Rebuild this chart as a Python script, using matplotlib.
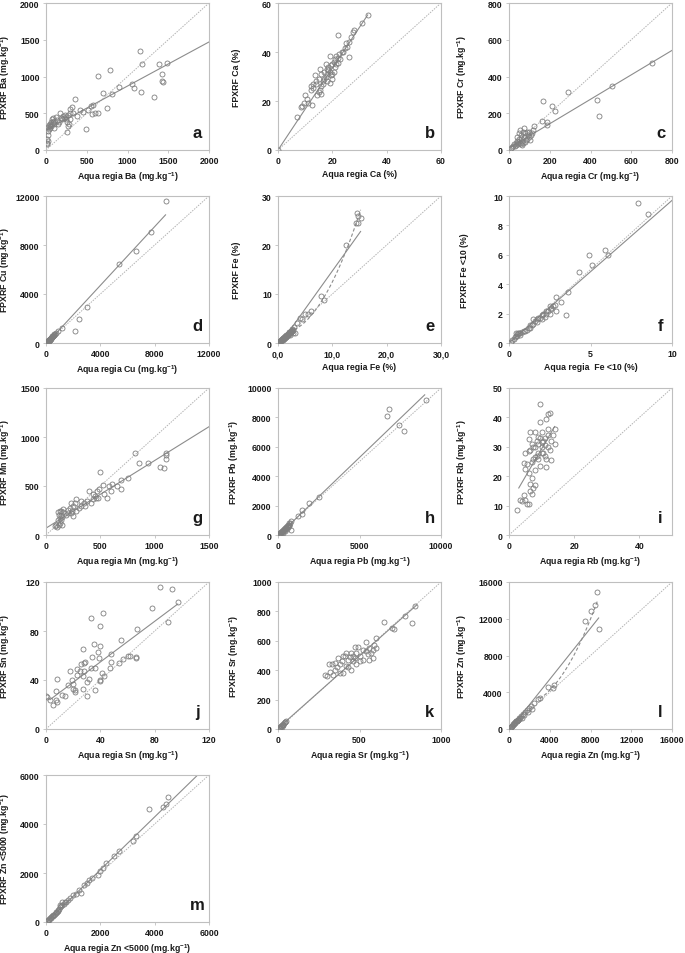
import matplotlib
matplotlib.use("Agg")
import matplotlib.pyplot as plt
import numpy as np

plt.rcParams['font.family'] = ['Liberation Sans', 'DejaVu Sans']
plt.rcParams['font.weight'] = 'bold'
plt.rcParams['mathtext.fontset'] = 'custom'
plt.rcParams['mathtext.rm'] = 'Liberation Sans:bold'
plt.rcParams['mathtext.default'] = 'rm'

# ---------------- data ----------------
ba_x = [1150,1175,1390,1480,1420,1420,1440,1170,1330,1050,1080,900,780,640,700,810,750,640,600,580,550,560,520,490,450,420,360,320,300,290,270,260,280,260,240,220,200,170,160,150,120,100,90,80,70,60,50,50,40,30,20,15,10,10,20,60,70,100,130,180,210,230,250,270,300,330,380,100,40,50,30]
ba_y = [1350,1170,1170,1180,1030,940,920,790,720,900,850,860,1090,1010,770,760,570,510,500,610,600,490,550,280,520,540,690,580,560,500,470,380,360,240,450,440,420,500,380,350,450,400,430,380,350,330,320,300,280,260,200,150,100,80,120,380,420,350,410,440,460,480,420,330,420,500,460,300,340,360,310]

ca_x = [0,7,8.5,9,9.5,10,10.5,11,12.5,12,13,13.5,14,14.5,15,15.5,16,15,15.5,16,16.5,17,17.5,18,18,18.5,19,19,19.5,20,20,20.5,21,21,21.5,22,22,22.5,23,24,24.5,25,25.5,26,26,27,27.5,28,31,33,16.5,17,18,14,13,12,18.5,19.5,20.5,17.5,16,19,20,21.5,22,23.5]
ca_y = [0,13.5,17.5,18,19,22.5,21,19,18.5,24.5,25.5,30.5,27,22.5,23.5,24.5,23,29,33,31,28,32,30,33,31,34,32,38.5,30.5,29,35,36,34,37,38.5,47,35.5,39,37,40,41.5,43.5,42,38,44,46,48,49,52,55,27,29,28,28,27,26,32.5,34.5,32,35,26,27.5,31,35,37.5,40]

cr_x = [700,505,430,440,290,165,210,225,160,185,185,125,120,100,95,90,80,75,70,65,60,55,50,50,45,40,40,35,30,25,20,15,10,60,70,80,90,100,110,60,55,75,45,35,85,105,115,65]
cr_y = [475,350,270,185,315,265,240,210,160,150,135,130,110,100,80,60,90,70,100,50,80,40,60,90,30,50,70,40,20,30,20,15,10,30,40,45,100,70,80,65,110,120,45,25,55,55,90,25]

cu_x = [8850,7750,6650,5400,3050,2450,2100,1200,900,750,600,500,400,350,300,250,200,150,100,80,50,30,20,10,120,180,220,270,320,450,550,650,
        20,40,60,90,110,130,160,190,210,240,260,290,310,340,380,420,470,520,580,620]
cu_y = [11600,9100,7500,6450,2950,2000,950,1250,950,800,650,550,400,300,250,200,150,100,80,60,40,30,10,5,140,170,230,280,330,480,600,700,
        25,45,70,100,130,150,190,220,250,280,300,340,360,400,440,490,540,600,670,720]

fe_x = [14.5,14.8,15.2,14.3,14.8,12.5,8,8.5,6,5.5,5,4.5,4,3.5,3.2,3,2.8,2.6,2.4,2.2,2,1.8,1.6,1.4,1.2,1,0.8,0.6,0.4,0.3,0.2,0.1,2.5,2.1,1.9,1.5,1.1,0.9,0.5,2.7,2.3,
        0.15,0.25,0.35,0.45,0.55,0.65,0.75,0.85,0.95,1.05,1.15,1.25,1.35,1.45,1.55,1.65,1.75,1.85,1.95,2.05,2.15,2.25,2.35,2.45,2.55,2.65]
fe_y = [26.5,26,25.5,24.5,24.5,20,9.5,8.8,6.5,6,6,5,5.2,4,2,3.2,2.6,2.4,2.2,2,1.8,1.6,1.5,1.3,1.1,1,0.8,0.6,0.4,0.3,0.2,0.1,2.8,2.2,1.9,1.2,0.9,0.7,0.5,2.0,1.7,
        0.2,0.3,0.35,0.5,0.6,0.65,0.8,0.9,0.95,1.1,1.2,1.2,1.4,1.4,1.6,1.7,1.7,1.9,2.0,2.0,2.2,2.3,2.3,2.5,2.6,2.5]

fe10_x = [7.9,8.5,6.1,5.9,4.9,5.1,4.3,3.6,3.5,3.2,2.9,2.8,2.7,2.6,2.5,2.4,2.3,2.2,2.1,2.0,1.9,1.8,1.7,1.6,1.5,1.4,1.3,1.2,1.1,1.0,0.9,0.8,0.7,0.6,0.5,0.45,0.4,0.35,0.3,0.2,0.1,2.6,2.9,2.0,1.7,0.55,0.65,0.5,2.3,2.5,1.5,1.3]
fe10_y = [9.5,8.8,6,6.3,6,5.3,4.8,3.5,1.9,2.8,3.1,2.6,2.5,2.3,2.0,2.2,2.0,1.8,2.0,1.9,1.7,1.7,1.6,1.5,1.3,1.2,1.2,1.0,0.9,0.85,0.8,0.75,0.7,0.65,0.6,0.5,0.7,0.4,0.3,0.2,0.1,2.4,2.2,1.6,1.4,0.7,0.55,0.45,2.2,2.5,1.6,1.0]

mn_x = [820,1100,1100,1100,1050,1090,940,860,750,690,690,650,610,580,560,500,520,490,470,460,450,430,400,380,350,320,300,280,270,250,240,230,220,200,180,160,150,140,130,130,120,120,110,100,90,80,150,140,160,110,320,360,410,430,480,530,600,250,280,200,230,130,140]
mn_y = [835,840,820,780,690,680,730,730,580,560,470,500,520,500,380,640,510,470,450,380,400,420,450,350,330,300,280,370,330,300,250,220,280,260,200,230,180,150,240,120,200,100,150,80,100,90,100,200,270,230,350,300,330,370,380,420,450,190,250,220,330,170,250]

pb_x = [9100,6800,6700,7400,7700,2500,1900,1500,1500,1200,800,750,700,650,780,600,500,450,400,350,300,250,200,150,100,50,20,550,400,300,200,700,
        60,120,180,230,280,330,380,430,480,520,570,620,680]
pb_y = [9200,8550,8100,7450,7050,2600,2200,1700,1400,1300,950,800,700,600,350,550,500,450,400,350,300,250,200,150,100,50,20,420,250,150,100,850,
        70,110,200,220,300,320,400,420,500,540,580,650,700]

rb_x = [2.5,3.5,4,4.5,5,5.5,6,6.5,7,7.5,7,8,8,6.5,6,5.5,5,4.5,5,6,6,6.5,6.5,7,7.5,8,8,8.5,8.5,9,9,9.5,9.5,9.5,9.5,10,10,10.5,10.5,11,11,11.5,11.5,11.5,12,12,12,12.5,12.5,13,13,13.5,14,14,10,9,8,7.5,11,12,10,9,7]
rb_y = [8.5,12,11.5,13.5,12,10.5,10.5,15,14,16,19.5,17,22,17.5,21,24,22.5,24.5,28,28.5,32.5,35,29,25,26,30,35,32,27,28,31,44.5,38.5,33,23.5,30,35,28,32,27,30.5,26,39.5,23,36,41,30,41.5,29,32,25.5,34,31,36,28,26,26.5,30,33,34,31.5,33.5,31]

sn_x = [0,1,3,5,7,7,8,8,12,14,16,18,19,20,20,21,21,23,23,25,26,27,27,27,28,28,29,30,30,32,33,33,34,35,36,36,38,39,40,40,40,41,42,43,47,48,48,54,55,57,60,62,66,66,67,78,84,90,93,97,40]
sn_y = [27,26,24,20,24,31,41,22,28,27,36,47,40,37,33,30,32,44,49,47,53,65,43,33,54,47,55,38,27,41,91,50,59,69,32,50,63,58,40,84,68,46,95,43,50,55,61,54,73,57,60,60,58,59,82,99,116,87,114,104,39]

sr_x = [840,780,820,650,700,710,600,590,580,570,560,550,540,520,500,490,480,470,460,450,450,440,430,420,410,400,390,380,370,360,350,340,330,320,310,300,290,350,400,430,460,480,500,520,540,560,580,600,470,420,380,30,20,15,10,5,25,35,40,
        8,12,18,22,28,32,45,50]
sr_y = [835,770,720,730,690,680,620,570,540,520,470,510,590,540,500,560,520,480,460,520,400,490,470,430,500,380,460,440,480,420,400,370,440,390,440,360,370,450,500,420,500,440,460,470,530,550,480,550,560,520,380,30,20,15,10,5,15,40,50,
        10,10,20,25,25,35,45,55]

zn_x = [8650,8400,8000,7500,8850,4400,4300,3800,3000,2800,2500,2200,2000,1800,1600,1400,1200,1000,900,800,700,600,500,400,300,200,100,50,1300,1500,1900,2300,
        150,250,350,450,550,650,750,850,950,1100]
zn_y = [14900,13500,12800,11800,10900,4800,4500,4600,3400,3300,2800,2500,2300,2100,1800,1600,1400,1200,1000,900,900,800,700,500,350,250,120,60,1200,1500,1800,2200,
        180,300,420,560,700,820,900,1000,1100,1250]

zn5_x = [4500,4400,4300,3800,3300,3200,2700,2500,2200,2000,1900,1700,1500,1400,1200,1100,1000,900,800,700,600,500,450,400,350,300,250,200,150,100,50,2100,1600,1300,600,500,
         75,125,175,225,275,325,375,425,475,550,650,750]
zn5_y = [5100,4800,4700,4600,3500,3300,2900,2700,2400,2100,1900,1800,1600,1500,1300,1150,1100,1000,900,800,700,600,500,420,380,300,250,200,150,100,50,2200,1700,1200,800,700,
         80,130,170,230,280,330,390,440,520,650,750,820]

# fit lines: slope, intercept, x start, x end
fit_slope = [0.6, 1.67, 0.665, 1.2, 1.55, 0.97, 0.69, 1.065, 1.9, 0.83, 0.985, 1.39, 1.08]
fit_icpt = [270, 0, 10, -100, -0.8, 0, 70, -50, 10.3, 21.5, 5, -150, -30]
fit_x0 = [0, 0, 0, 0, 0, 0, 0, 0, 3, 3, 0, 0, 0]
fit_x1 = [2000, 33, 800, 8800, 15.2, 10, 1500, 9000, 14, 97, 850, 8800, 5600]

# quadratic (dashed) fits for e and l: c0, c1, c2, x range
quad_e = [2.044, -0.134, 0.1176, 3.0, 15.2]
quad_l = [2994, -0.51, 2.04e-4, 3000, 8700]

panel_letters = ['a','b','c','d','e','f','g','h','i','j','k','l','m']
xlabels = ['Aqua regia Ba (mg.kg$^{-1}$)', 'Aqua regia Ca (%)', 'Aqua regia Cr (mg.kg$^{-1}$)',
           'Aqua regia Cu (mg.kg$^{-1}$)', 'Aqua regia Fe (%)', 'Aqua regia  Fe <10 (%)',
           'Aqua regia Mn (mg.kg$^{-1}$)', 'Aqua regia Pb (mg.kg$^{-1}$)', 'Aqua regia Rb (mg.kg$^{-1}$)',
           'Aqua regia Sn (mg.kg$^{-1}$)', 'Aqua regia Sr (mg.kg$^{-1}$)', 'Aqua regia Zn (mg.kg$^{-1}$)',
           'Aqua regia Zn <5000 (mg.kg$^{-1}$)']
ylabels = ['FPXRF Ba (mg.kg$^{-1}$)', 'FPXRF Ca (%)', 'FPXRF Cr (mg.kg$^{-1}$)',
           'FPXRF Cu (mg.kg$^{-1}$)', 'FPXRF Fe (%)', 'FPXRF Fe <10 (%)',
           'FPXRF Mn (mg.kg$^{-1}$)', 'FPXRF Pb (mg.kg$^{-1}$)', 'FPXRF Rb (mg.kg$^{-1}$)',
           'FPXRF Sn (mg.kg$^{-1}$)', 'FPXRF Sr (mg.kg$^{-1}$)', 'FPXRF Zn (mg.kg$^{-1}$)',
           'FPXRF Zn <5000 (mg.kg$^{-1}$)']
axis_max = [2000, 60, 800, 12000, 30, 10, 1500, 10000, 50, 120, 1000, 16000, 6000]
xticks = [[0,500,1000,1500,2000],[0,20,40,60],[0,200,400,600,800],[0,4000,8000,12000],
          [0,10,20,30],[0,5,10],[0,500,1000,1500],[0,5000,10000],[0,20,40],[0,40,80,120],
          [0,500,1000],[0,4000,8000,12000,16000],[0,2000,4000,6000]]
yticks = [[0,500,1000,1500,2000],[0,20,40,60],[0,200,400,600,800],[0,4000,8000,12000],
          [0,10,20,30],[0,2,4,6,8,10],[0,500,1000,1500],[0,2000,4000,6000,8000,10000],
          [0,10,20,30,40,50],[0,40,80,120],[0,200,400,600,800,1000],[0,4000,8000,12000,16000],
          [0,2000,4000,6000]]

xs = [ba_x, ca_x, cr_x, cu_x, fe_x, fe10_x, mn_x, pb_x, rb_x, sn_x, sr_x, zn_x, zn5_x]
ys = [ba_y, ca_y, cr_y, cu_y, fe_y, fe10_y, mn_y, pb_y, rb_y, sn_y, sr_y, zn_y, zn5_y]

# ---------------- layout ----------------
W, H = 685, 954
fig = plt.figure(figsize=(W/100, H/100), dpi=100)
col_left = [46, 278, 509]
row_top = [4, 197, 389, 583, 776]
aw, ah = 163, 147
ylab_off = [34, 37, 40]

grey = '#7f7f7f'
spine_c = '#bfbfbf'
txt_c = '#1a1a1a'

for i in range(13):
    r, c = divmod(i, 3)
    l = col_left[c]
    t = row_top[r]
    ax = fig.add_axes([l/W, 1 - (t+ah)/H, aw/W, ah/H])
    m = axis_max[i]
    ax.set_xlim(0, m)
    ax.set_ylim(0, m)
    # 1:1 line
    ax.plot([0, m], [0, m], color='#b3b3b3', lw=0.7, ls=(0, (1.5, 1.2)), zorder=1)
    # data points
    ax.plot(xs[i], ys[i], ls='none', marker='o', ms=3.6, mfc='none', mec=grey, mew=0.6, zorder=3)
    # linear fit
    fx = np.array([fit_x0[i], fit_x1[i]])
    ax.plot(fx, fit_slope[i]*fx + fit_icpt[i], color='#8c8c8c', lw=0.8, zorder=2)
    if panel_letters[i] in ('e', 'l'):
        q = quad_e if panel_letters[i] == 'e' else quad_l
        qx = np.linspace(q[3], q[4], 50)
        ax.plot(qx, q[0] + q[1]*qx + q[2]*qx**2, color='#8c8c8c', lw=0.8, ls=(0, (3, 2)), zorder=2)
    ax.set_xticks(xticks[i])
    ax.set_yticks(yticks[i])
    if panel_letters[i] == 'e':
        ax.set_xticklabels(['0,0', '10,0', '20,0', '30,0'])
    for s in ax.spines.values():
        s.set_color(spine_c)
        s.set_linewidth(0.8)
    ax.tick_params(length=2.5, width=0.6, color=spine_c, labelsize=6.3, labelcolor=txt_c, pad=2)
    for lab in ax.get_xticklabels() + ax.get_yticklabels():
        lab.set_fontweight('bold')
    ax.set_xlabel(xlabels[i], fontsize=6.3, fontweight='bold', color=txt_c)
    ax.set_ylabel(ylabels[i], fontsize=6.3, fontweight='bold', color=txt_c)
    ax.xaxis.set_label_coords(0.5, -19/ah)
    ax.yaxis.set_label_coords(-ylab_off[c]/aw, 0.5)
    ax.text(0.93, 0.07, panel_letters[i], transform=ax.transAxes, ha='center', va='bottom',
            fontsize=12, fontweight='bold', color=txt_c)

fig.savefig('out.png', dpi=100)
